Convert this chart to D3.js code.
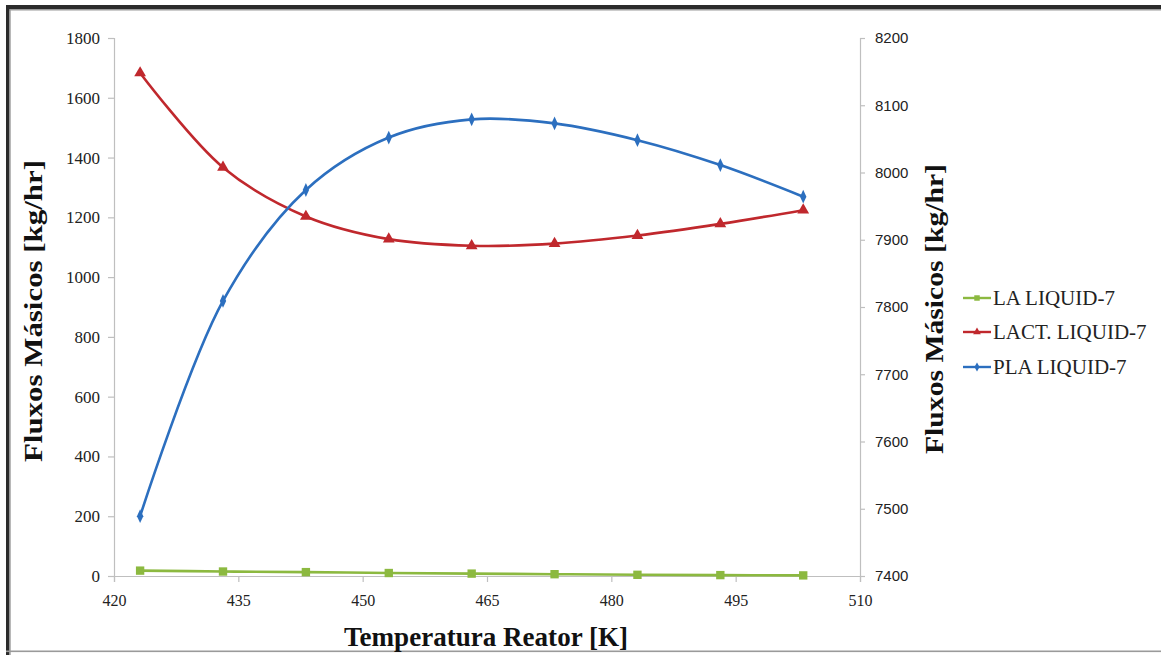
<!DOCTYPE html>
<html>
<head>
<meta charset="utf-8">
<script src="https://cdn.jsdelivr.net/npm/d3@7"></script>
<style>
html,body{margin:0;padding:0;background:#fff;}
svg{display:block;}
</style>
</head>
<body>
<svg id="chart" width="1161" height="655"></svg>
<script>
// ---- data ----
const temps = [423.15, 433.15, 443.15, 453.15, 463.15, 473.15, 483.15, 493.15, 503.15];
const laLiquid = [18, 15, 13, 10, 8, 6, 4, 3, 2];
const lactLiquid = [1683, 1367, 1203, 1127, 1105, 1112, 1139, 1178, 1224];
const plaLiquid = [7489, 7809, 7974, 8052, 8079, 8073, 8048, 8011, 7964];
const xTicks = [420, 435, 450, 465, 480, 495, 510];
const yLeftTicks = [0, 200, 400, 600, 800, 1000, 1200, 1400, 1600, 1800];
const yRightTicks = [7400, 7500, 7600, 7700, 7800, 7900, 8000, 8100, 8200];
const seriesNames = ["LA LIQUID-7", "LACT. LIQUID-7", "PLA LIQUID-7"];

const svg = d3.select("#chart");
const L = 114, R = 860, T = 38, B = 576;
const SERIF = "'Liberation Serif', 'Times New Roman', serif";
const SANS = "'Liberation Sans', Arial, sans-serif";

const x = d3.scaleLinear().domain([420, 510]).range([L, R]);
const yL = d3.scaleLinear().domain([0, 1800]).range([B, T]);
const yR = d3.scaleLinear().domain([7400, 8200]).range([B, T]);

// frame
svg.append("rect").attr("x", 6).attr("y", 5).attr("width", 1161).attr("height", 4).attr("fill", "#2b2b2b");
svg.append("rect").attr("x", 6).attr("y", 9).attr("width", 1161).attr("height", 1.5).attr("fill", "#9a9a9a");
svg.append("rect").attr("x", 6).attr("y", 5).attr("width", 3.5).attr("height", 650).attr("fill", "#2b2b2b");
svg.append("rect").attr("x", 9.5).attr("y", 9).attr("width", 1.2).attr("height", 646).attr("fill", "#9a9a9a");
svg.append("rect").attr("x", 6).attr("y", 650.5).attr("width", 1161).attr("height", 1.6).attr("fill", "#9a9a9a");

const axisColor = "#bfbfbf";

function styleAxis(g, family, size) {
  g.attr("font-family", null).attr("font-size", null);
  g.select(".domain").attr("stroke", axisColor).attr("stroke-width", 1.2);
  g.selectAll(".tick line").attr("stroke", axisColor).attr("stroke-width", 1.2);
  g.selectAll(".tick text").style("font-family", family).style("font-size", size).attr("fill", "#222");
}

// left axis
const gL = svg.append("g").attr("transform", `translate(${L},0)`)
  .call(d3.axisLeft(yL).tickValues(yLeftTicks).tickSize(6).tickPadding(8).tickFormat(d3.format("d")));
styleAxis(gL, SERIF, "17px");

// right axis
const gR = svg.append("g").attr("transform", `translate(${R},0)`)
  .call(d3.axisRight(yR).tickValues(yRightTicks).tickSize(5).tickPadding(10).tickFormat(d3.format("d")));
styleAxis(gR, SANS, "15px");

// bottom axis
const gB = svg.append("g").attr("transform", `translate(0,${B})`)
  .call(d3.axisBottom(x).tickValues(xTicks).tickSize(6).tickPadding(13).tickFormat(d3.format("d")));
styleAxis(gB, SERIF, "16px");

// axis titles
svg.append("text").attr("x", 486).attr("y", 646).attr("text-anchor", "middle")
  .style("font-family", SERIF).attr("font-weight", "bold")
  .style("font-size", "27px").attr("fill", "#111")
  .attr("textLength", 284).attr("lengthAdjust", "spacingAndGlyphs")
  .text("Temperatura  Reator [K]");

svg.append("text").attr("transform", "translate(42,311) rotate(-90)").attr("text-anchor", "middle")
  .style("font-family", SERIF).attr("font-weight", "bold")
  .style("font-size", "26px").attr("fill", "#111")
  .attr("textLength", 302).attr("lengthAdjust", "spacingAndGlyphs")
  .text("Fluxos  Másicos [kg/hr]");

svg.append("text").attr("transform", "translate(943,309) rotate(-90)").attr("text-anchor", "middle")
  .style("font-family", SERIF).attr("font-weight", "bold")
  .style("font-size", "26px").attr("fill", "#111")
  .attr("textLength", 290).attr("lengthAdjust", "spacingAndGlyphs")
  .text("Fluxos  Másicos [kg/hr]");

// series
const colors = {la: "#8cb940", lact: "#c0282d", pla: "#2c6fbf"};
const curve = d3.curveCatmullRom.alpha(0.5);

function drawSeries(values, yScale, color, symType, symSize, sx) {
  const pts = temps.map((t, i) => [x(t), yScale(values[i])]);
  svg.append("path").attr("d", d3.line().curve(curve)(pts))
    .attr("fill", "none").attr("stroke", color).attr("stroke-width", 2.6);
  svg.append("g").selectAll("path").data(pts).join("path")
    .attr("transform", d => `translate(${d[0]},${d[1]}) scale(${sx},1)`)
    .attr("d", d3.symbol().type(symType).size(symSize)())
    .attr("fill", color);
}

drawSeries(laLiquid, yL, colors.la, d3.symbolSquare, 70, 1);
drawSeries(lactLiquid, yL, colors.lact, d3.symbolTriangle, 60, 1);
drawSeries(plaLiquid, yR, colors.pla, d3.symbolDiamond, 55, 0.8);

// legend
const legendY = [298, 332, 367];
const legendColors = [colors.la, colors.lact, colors.pla];
const legendSyms = [[d3.symbolSquare, 30], [d3.symbolTriangle, 26], [d3.symbolDiamond, 24]];
seriesNames.forEach((name, i) => {
  const g = svg.append("g").attr("transform", `translate(963,${legendY[i]})`);
  g.append("line").attr("x1", 0).attr("x2", 28).attr("y1", 0).attr("y2", 0)
    .attr("stroke", legendColors[i]).attr("stroke-width", 2.4);
  g.append("path").attr("transform", "translate(14,0)")
    .attr("d", d3.symbol().type(legendSyms[i][0]).size(legendSyms[i][1])())
    .attr("fill", legendColors[i]);
  g.append("text").attr("x", 30).attr("y", 7)
    .style("font-family", SERIF)
    .style("font-size", "21px").attr("fill", "#222").text(name);
});
</script>
</body>
</html>
